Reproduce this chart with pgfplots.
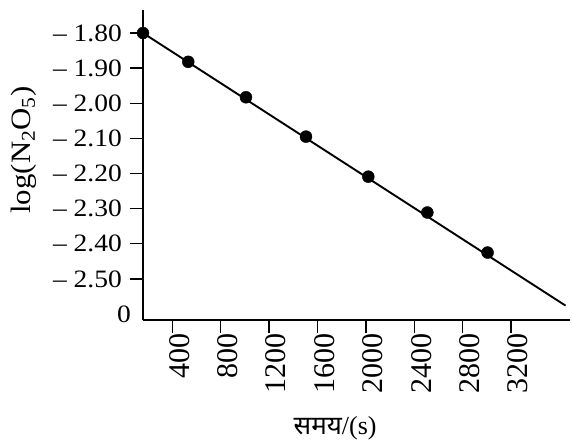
\documentclass[border=0pt]{standalone}
\usepackage{fontspec}
\setmainfont{Liberation Serif}
\newfontfamily\devfont[Script=Devanagari]{Noto Sans}
\newfontfamily\ytfont[FakeStretch=1.1]{Liberation Serif}
\usepackage{pgfplots}
\pgfplotsset{compat=1.18}
\begin{document}
\begin{tikzpicture}
\useasboundingbox (-143pt,-123pt) rectangle (429pt,320pt);
\begin{axis}[
  at={(0,0)}, anchor=south west,
  scale only axis, width=427pt, height=310pt,
  xmin=158, xmax=3687, ymin=-2.617, ymax=-1.7345,
  axis lines=left,
  axis line style={-, line width=1.6pt},
  tick style={line width=1.3pt, black},
  tick align=outside,
  major tick length=13pt,
  clip=false,
  xtick={400,800,...,3200},
  xticklabel style={rotate=90, anchor=east, inner sep=0pt, yshift=-7pt, font=\fontsize{30}{32}\selectfont},
  /pgf/number format/assume math mode=true,
  /pgf/number format/1000 sep={},
  ytick={-2.5,-2.4,-2.3,-2.2,-2.1,-2.0,-1.9,-1.8},
  yticklabels={{\textendash\ 2.50},{\textendash\ 2.40},{\textendash\ 2.30},{\textendash\ 2.20},{\textendash\ 2.10},{\textendash\ 2.00},{\textendash\ 1.90},{\textendash\ 1.80}},
  yticklabel style={anchor=east, inner sep=0pt, xshift=-8pt, font=\ytfont\fontsize{25}{27}\selectfont},
  extra y ticks={-2.617},
  extra y tick labels={0},
  extra y tick style={major tick length=0pt, yticklabel style={yshift=6pt, xshift=-4pt}},
  xlabel={{\devfont समय}/(s)},
  xlabel style={at={(axis description cs:0.45,-0.35)}, anchor=center, font=\fontsize{26}{28}\selectfont},
  ylabel={log(N\textsubscript{2}O\textsubscript{5})},
  ylabel style={at={(axis description cs:-0.279,0.548)}, anchor=center, font=\ytfont\fontsize{28}{30}\selectfont},
]
\addplot[black, line width=1.9pt, no marks] coordinates {(158,-1.80) (3650,-2.576)};
\addplot[black, only marks, mark=*, mark size=6pt] coordinates {
(158,-1.800) (532,-1.882) (1009,-1.983) (1505,-2.095) (2020,-2.209) (2508,-2.311) (3006,-2.425)};
\end{axis}
\end{tikzpicture}
\end{document}
